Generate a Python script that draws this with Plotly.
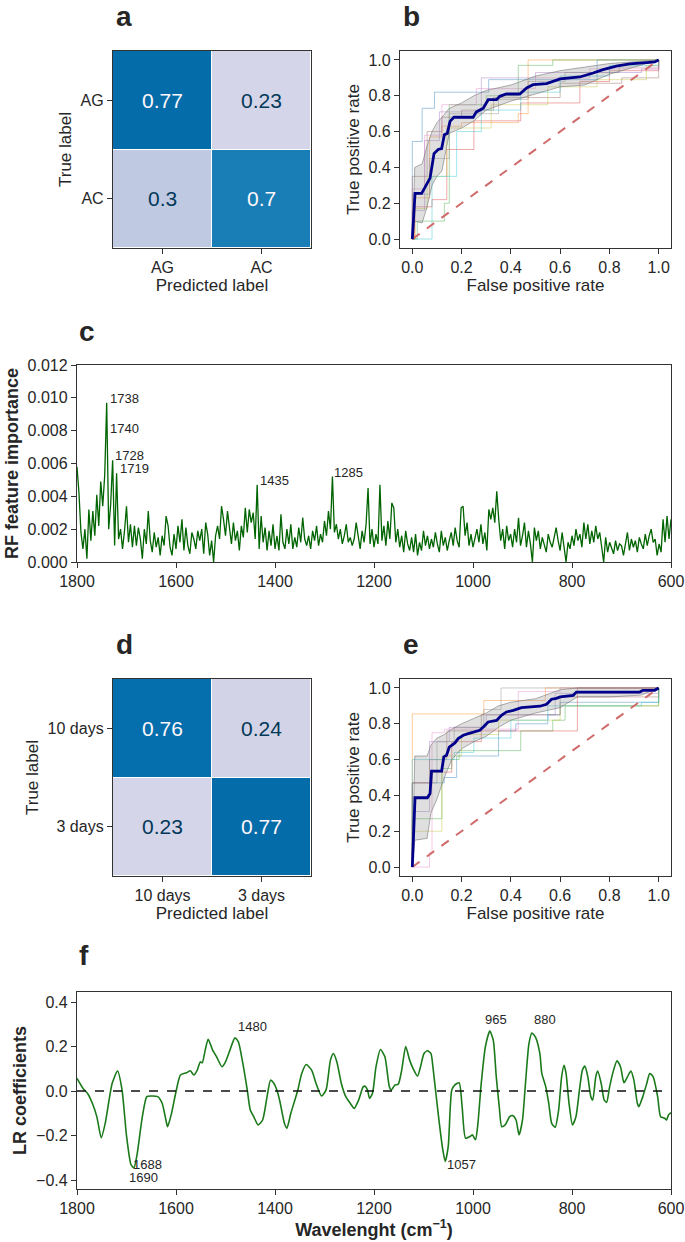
import plotly.graph_objects as go

FIG_W, FIG_H = 685, 1242
FONT = 'Liberation Sans, Arial, sans-serif'
TXT = '#262626'
AX = '#333333'

# ---------------- data ----------------
cm_a_labels = ['AG', 'AC']
cm_a_values = [[0.77, 0.23], [0.3, 0.7]]
cm_d_labels = ['10 days', '3 days']
cm_d_values = [[0.76, 0.24], [0.23, 0.77]]

chance_line = [0, 1]
fold_colors = ['#1f77b4', '#ff7f0e', '#2ca02c', '#d62728', '#9467bd',
               '#8c564b', '#e377c2', '#7f7f7f', '#bcbd22', '#17becf']

# panel b: ROC of AG vs AC
b_fold_fpr = [
    [0, 0, 0.04, 0.09, 0.31, 0.75, 1.0],
    [0, 0.01, 0.07, 0.12, 0.2, 0.43, 0.47, 1.0],
    [0, 0.02, 0.13, 0.15, 0.3, 0.43, 0.57, 1.0],
    [0, 0.01, 0.08, 0.14, 0.25, 0.44, 0.68, 0.8, 1.0],
    [0, 0, 0.05, 0.11, 0.28, 0.5, 0.93, 1.0],
    [0, 0, 0.06, 0.12, 0.2, 0.33, 0.6, 0.85, 1.0],
    [0, 0, 0.05, 0.12, 0.26, 0.5, 0.72, 1.0],
    [0, 0, 0.07, 0.15, 0.35, 0.47, 0.62, 0.84, 1.0],
    [0, 0.01, 0.06, 0.14, 0.32, 0.55, 0.75, 0.95, 1.0],
    [0, 0.07, 0.08, 0.18, 0.28, 0.44, 0.6, 0.8, 1.0],
]
b_fold_tpr = [
    [0, 0.545, 0.73, 0.82, 0.89, 1.0, 1.0],
    [0, 0.23, 0.57, 0.63, 0.65, 0.70, 1.0, 1.0],
    [0, 0.1, 0.2, 0.75, 0.8, 0.97, 1.0, 1.0],
    [0, 0.18, 0.22, 0.5, 0.66, 0.76, 0.88, 0.94, 1.0],
    [0, 0.16, 0.55, 0.71, 0.9, 0.93, 0.95, 1.0],
    [0, 0.35, 0.6, 0.68, 0.72, 0.79, 0.87, 0.9, 1.0],
    [0, 0.28, 0.58, 0.75, 0.84, 0.9, 0.95, 1.0],
    [0, 0.25, 0.45, 0.7, 0.78, 0.88, 0.93, 0.96, 1.0],
    [0, 0.17, 0.35, 0.62, 0.75, 0.85, 0.89, 0.97, 1.0],
    [0, 0.0, 0.35, 0.6, 0.72, 0.82, 0.91, 0.97, 1.0],
]
b_mean_fpr = [0, 0.011, 0.038, 0.072, 0.088, 0.105, 0.119, 0.13, 0.142, 0.153,
              0.169, 0.247, 0.26, 0.288, 0.308, 0.342, 0.355, 0.382, 0.436, 0.464,
              0.49, 0.545, 0.6, 0.68, 0.734, 0.774, 0.828, 0.882, 0.964, 0.984, 1.0]
b_mean_tpr = [0, 0.255, 0.255, 0.34, 0.477, 0.5, 0.505, 0.583, 0.59, 0.657,
              0.68, 0.68, 0.71, 0.73, 0.778, 0.778, 0.797, 0.81, 0.81, 0.844,
              0.862, 0.868, 0.894, 0.905, 0.927, 0.946, 0.965, 0.978, 0.987, 0.989, 1.0]
b_band_fpr = [0, 0.01, 0.04, 0.06, 0.08, 0.1, 0.12, 0.15, 0.2, 0.25, 0.3, 0.4, 0.5, 0.6, 0.7, 0.8, 0.9, 1.0]
b_band_upper = [0, 0.40, 0.42, 0.52, 0.60, 0.65, 0.68, 0.73, 0.76, 0.80, 0.83, 0.86, 0.91, 0.94, 0.96, 0.98, 0.99, 1.0]
b_band_lower = [0, 0.10, 0.09, 0.18, 0.30, 0.35, 0.38, 0.59, 0.62, 0.66, 0.72, 0.77, 0.81, 0.85, 0.86, 0.92, 0.96, 1.0]

# panel e: ROC of 10 days vs 3 days
e_fold_fpr = [
    [0, 0, 0.13, 0.18, 0.35, 0.42, 0.55, 0.6, 1.0],
    [0, 0, 0.29, 0.54, 1.0],
    [0, 0, 0.12, 0.16, 0.19, 0.44, 0.57, 0.62, 1.0],
    [0, 0, 0.08, 0.16, 0.28, 0.67, 1.0],
    [0, 0, 0.07, 0.15, 0.3, 0.58, 1.0],
    [0, 0, 0.07, 0.14, 0.28, 0.6, 1.0],
    [0, 0.07, 0.08, 0.13, 0.43, 0.6, 1.0],
    [0, 0, 0.1, 0.17, 0.29, 0.36, 1.0],
    [0, 0, 0.07, 0.12, 0.2, 0.35, 0.6, 1.0],
    [0, 0, 0.17, 0.25, 0.4, 0.55, 0.93, 1.0],
]
e_fold_tpr = [
    [0, 0.47, 0.5, 0.62, 0.76, 0.8, 0.85, 0.92, 1.0],
    [0, 0.855, 0.93, 1.0, 1.0],
    [0, 0.27, 0.55, 0.6, 0.65, 0.76, 0.82, 0.9, 1.0],
    [0, 0.47, 0.53, 0.7, 0.76, 1.0, 1.0],
    [0, 0.31, 0.7, 0.78, 0.85, 0.97, 1.0],
    [0, 0.39, 0.6, 0.76, 0.85, 0.95, 1.0],
    [0, 0.08, 0.75, 0.77, 0.98, 1.0, 1.0],
    [0, 0.47, 0.7, 0.78, 0.88, 1.0, 1.0],
    [0, 0.2, 0.2, 0.62, 0.74, 0.82, 0.9, 1.0],
    [0, 0.6, 0.64, 0.72, 0.82, 0.9, 0.92, 1.0],
]
e_mean_fpr = [0, 0.011, 0.061, 0.072, 0.078, 0.119, 0.128, 0.139, 0.15, 0.164,
              0.173, 0.186, 0.207, 0.227, 0.247, 0.274, 0.288, 0.308, 0.342, 0.362,
              0.382, 0.41, 0.443, 0.477, 0.518, 0.545, 0.565, 0.585, 0.6, 0.653,
              0.666, 0.923, 0.936, 0.984, 1.0]
e_mean_tpr = [0, 0.387, 0.387, 0.41, 0.536, 0.536, 0.615, 0.624, 0.67, 0.685,
              0.693, 0.717, 0.736, 0.745, 0.754, 0.764, 0.782, 0.81, 0.819, 0.847,
              0.866, 0.875, 0.89, 0.894, 0.898, 0.909, 0.937, 0.942, 0.95, 0.959,
              0.977, 0.977, 0.987, 0.987, 1.0]
e_band_fpr = [0, 0.01, 0.06, 0.075, 0.1, 0.13, 0.16, 0.2, 0.25, 0.3, 0.35, 0.4, 0.5, 0.6, 0.67, 0.8, 0.93, 1.0]
e_band_upper = [0, 0.62, 0.62, 0.68, 0.72, 0.74, 0.77, 0.80, 0.83, 0.86, 0.90, 0.92, 0.94, 0.99, 1.0, 1.0, 1.0, 1.0]
e_band_lower = [0, 0.15, 0.16, 0.30, 0.38, 0.50, 0.60, 0.66, 0.70, 0.73, 0.78, 0.82, 0.86, 0.89, 0.95, 0.95, 0.96, 1.0]

# panel c: RF feature importance (x 1e-3), one value every 4 cm-1 from 1800 down to 600
rf_wavenumber = list(range(1800, 599, -4))
rf_importance_e3 = [
    5.8, 4.2, 1.8, 0.8, 2.0, 0.2, 3.2, 1.3, 3.1, 1.6,
    4.1, 2.2, 4.9, 3.4, 5.3, 9.7, 2.0, 3.5, 6.2, 1.0,
    5.4, 1.4, 2.0, 0.8, 1.9, 3.4, 1.2, 2.3, 0.9, 2.2,
    1.0, 2.1, 1.4, 0.2, 2.0, 1.1, 3.1, 1.3, 0.6, 1.8,
    0.9, 1.5, 0.4, 1.6, 1.0, 2.8, 2.2, 0.9, 0.4, 1.7,
    0.8, 2.2, 1.2, 2.6, 0.7, 2.1, 1.0, 0.5, 1.8, 1.4,
    0.8, 1.9, 1.3, 2.0, 0.5, 2.4, 1.7, 0.4, 1.3, 0.0,
    1.6, 2.2, 1.4, 3.4, 2.6, 1.6, 3.1, 2.0, 1.1, 2.4,
    1.3, 1.9, 0.7, 2.2, 1.5, 3.3, 1.8, 3.2, 2.4, 3.0,
    1.4, 4.7, 0.8, 2.8, 1.2, 2.1, 0.7, 1.9, 1.0, 2.3,
    0.8, 1.6, 0.7, 2.9, 1.2, 0.8, 2.0, 1.1, 2.3, 0.8,
    1.5, 0.9, 2.1, 1.2, 2.7, 1.4, 1.0, 1.6, 0.8, 1.9,
    1.3, 2.2, 1.0, 1.7, 1.2, 2.5, 1.6, 3.1, 2.0, 5.2,
    1.8, 2.3, 1.4, 2.0, 1.1, 1.6, 2.3, 1.2, 1.5, 1.0,
    1.4, 2.4, 1.7, 0.8, 1.9, 1.2, 2.3, 4.5, 1.1, 2.0,
    0.9, 1.7, 1.1, 4.7, 1.3, 2.2, 1.0, 2.5, 1.4, 3.6,
    3.3, 1.2, 2.0, 0.9, 1.6, 0.6, 1.9, 1.1, 0.7, 1.5,
    0.6, 1.7, 0.4, 1.2, 0.7, 1.9, 1.0, 1.6, 0.8, 1.4,
    0.9, 1.8, 1.1, 0.6, 1.9, 1.0, 1.5, 0.7, 1.3, 1.8,
    1.0, 2.1, 1.3, 0.9, 3.3, 3.4, 1.6, 2.4, 1.0, 1.7,
    0.9, 1.4, 2.0, 1.2, 2.3, 1.1, 1.8, 0.7, 3.2, 2.6,
    3.3, 2.4, 4.3, 2.6, 1.3, 2.0, 0.8, 2.2, 1.3, 1.7,
    0.9, 2.0, 1.2, 2.7, 1.0, 1.6, 2.4, 0.9, 1.9, 1.1,
    0.0, 2.1, 1.3, 1.9, 0.8, 1.5, 1.1, 0.6, 1.7, 1.2,
    0.9, 1.6, 2.1, 1.3, 0.7, 1.8, 1.0, 0.0, 1.2, 0.8,
    1.6, 1.0, 2.0, 1.3, 1.7, 0.9, 2.4, 1.4, 2.3, 1.1,
    1.9, 1.2, 2.2, 1.4, 1.8, 0.8, 0.0, 1.5, 0.6, 1.2,
    0.9, 0.5, 1.3, 0.7, 1.1, 1.0, 0.4, 1.2, 1.8, 0.7,
    1.4, 0.9, 1.3, 0.6, 1.5, 1.1, 0.8, 1.7, 1.0, 1.6,
    2.0, 1.2, 1.4, 0.4, 1.1, 0.6, 2.6, 1.2, 2.8, 1.4,
    2.6,
]
rf_importance = [v * 1e-3 for v in rf_importance_e3]
rf_peak_labels = ['1738', '1740', '1728', '1719', '1435', '1285']
rf_peak_x = [1737, 1737, 1727, 1718, 1434, 1284]
rf_peak_y = [0.00995, 0.00814, 0.00647, 0.0057, 0.00498, 0.00545]

# panel f: LR coefficients
lr_wavenumber = [
    1800, 1787, 1778, 1769, 1760, 1751, 1743, 1729, 1718, 1709,
    1700, 1691, 1685, 1679, 1668, 1659, 1650, 1637, 1628, 1619,
    1617, 1609, 1600, 1591, 1579, 1571, 1564, 1557, 1551, 1547,
    1541, 1535, 1526, 1518, 1507, 1500, 1491, 1481, 1474, 1465,
    1456, 1450, 1443, 1434, 1425, 1416, 1409, 1403, 1396, 1390,
    1381, 1376, 1368, 1354, 1346, 1337, 1326, 1317, 1306, 1297,
    1288, 1282, 1275, 1266, 1257, 1248, 1240, 1231, 1222, 1218,
    1213, 1209, 1203, 1196, 1187, 1178, 1169, 1165, 1158, 1151,
    1144, 1136, 1128, 1121, 1112, 1106, 1099, 1092, 1085, 1081,
    1075, 1068, 1061, 1056, 1050, 1043, 1037, 1028, 1022, 1015,
    1006, 1001, 995, 990, 984, 975, 966, 959, 953, 947,
    942, 935, 926, 920, 913, 907, 900, 894, 887, 881,
    874, 865, 861, 853, 847, 841, 834, 827, 821, 816,
    812, 806, 799, 792, 785, 779, 774, 768, 762, 758,
    752, 748, 741, 735, 730, 724, 716, 709, 702, 695,
    688, 681, 675, 668, 665, 657, 649, 643, 636, 627,
    621, 613, 609, 605, 600,
]
lr_coef = [
    0.057, 0.009, -0.013, -0.055, -0.115, -0.21, -0.145, 0.034, 0.09, 0.005,
    -0.2, -0.33, -0.345, -0.29, -0.115, -0.025, -0.022, -0.025, -0.055, -0.145,
    -0.16, -0.1, -0.003, 0.072, 0.082, 0.091, 0.072, 0.094, 0.131, 0.127,
    0.184, 0.233, 0.184, 0.154, 0.109, 0.131, 0.184, 0.239, 0.221, 0.124,
    0.004, -0.085, -0.115, -0.152, -0.13, -0.025, 0.049, 0.037, 0.004, -0.048,
    -0.145, -0.167, -0.1, 0.004, 0.079, 0.119, 0.094, 0.034, -0.022, 0.004,
    0.139, 0.169, 0.131, 0.034, -0.025, -0.055, -0.078, -0.04, 0.019, 0.022,
    0.004, -0.033, -0.01, 0.109, 0.187, 0.154, 0.019, 0.004, 0.027, 0.031,
    0.094, 0.2, 0.139, 0.101, 0.067, 0.109, 0.169, 0.181, 0.169, 0.109,
    -0.01, -0.145, -0.264, -0.316, -0.248, 0.004, 0.027, 0.037, -0.07, -0.212,
    -0.204, -0.197, -0.219, -0.145, 0.019, 0.199, 0.27, 0.228, 0.064, -0.07,
    -0.16, -0.152, -0.115, -0.11, -0.13, -0.197, -0.13, 0.034, 0.213, 0.261,
    0.243, 0.169, 0.079, 0.019, -0.055, -0.145, -0.163, -0.085, 0.064, 0.116,
    0.079, -0.055, -0.152, -0.115, 0.004, 0.094, 0.112, 0.064, -0.025, -0.04,
    0.064, 0.09, 0.034, -0.04, -0.051, 0.019, 0.094, 0.136, 0.109, 0.037,
    0.064, 0.09, 0.049, -0.055, -0.07, -0.025, 0.034, 0.079, 0.064, -0.025,
    -0.115, -0.122, -0.13, -0.107, -0.097,
]
lr_peak_labels = ['1480', '965', '880', '1688', '1690', '1057']
lr_peak_x = [1478, 979, 880, 1690, 1699, 1056]
lr_peak_y = [0.29, 0.32, 0.32, -0.328, -0.387, -0.328]


# ---------------- helpers ----------------
def xdom(left, right):
    return [left / FIG_W, right / FIG_W]


def ydom(top, bottom):
    return [1 - bottom / FIG_H, 1 - top / FIG_H]


def rgba(hex_color, alpha):
    h = hex_color.lstrip('#')
    return 'rgba(%d,%d,%d,%s)' % (int(h[0:2], 16), int(h[2:4], 16), int(h[4:6], 16), alpha)


def frame(**kw):
    base = dict(showline=True, mirror=True, linecolor=AX, linewidth=1.3,
                ticks='outside', ticklen=5, tickwidth=1.2, tickcolor=AX,
                showgrid=False, zeroline=False, automargin=False,
                tickfont=dict(size=16, color=TXT, family=FONT))
    base.update(kw)
    return base


def axis_title(text, size=17, standoff=None):
    t = dict(text=text, font=dict(size=size, color=TXT, family=FONT))
    if standoff is not None:
        t['standoff'] = standoff
    return t


fig = go.Figure()
annotations = []


def add_confusion(values, labels, xa, ya):
    fig.add_trace(go.Heatmap(z=values, x=labels, y=labels, colorscale='PuBu',
                             zmin=0, zmax=1, showscale=False, xgap=1, ygap=1,
                             xaxis=xa, yaxis=ya, hoverinfo='skip'))
    flat = [v for row in values for v in row]
    thresh = (max(flat) + min(flat)) / 2
    for i, row in enumerate(values):
        for j, v in enumerate(row):
            annotations.append(dict(x=labels[j], y=labels[i], xref=xa, yref=ya,
                                    text=str(v), showarrow=False,
                                    font=dict(size=21, family=FONT,
                                              color='#fff7fb' if v >= thresh else '#023858')))


def add_roc(fold_fpr, fold_tpr, band_fpr, band_lower, band_upper, mean_fpr, mean_tpr, xa, ya):
    for k in range(len(fold_fpr)):
        fig.add_trace(go.Scatter(x=fold_fpr[k], y=fold_tpr[k], mode='lines',
                                 line=dict(color=rgba(fold_colors[k], 0.4), width=1, shape='hv'),
                                 xaxis=xa, yaxis=ya, showlegend=False, hoverinfo='skip'))
    fig.add_trace(go.Scatter(x=band_fpr, y=band_lower, mode='lines',
                             line=dict(color='rgba(110,110,110,0.55)', width=1),
                             xaxis=xa, yaxis=ya, showlegend=False, hoverinfo='skip'))
    fig.add_trace(go.Scatter(x=band_fpr, y=band_upper, mode='lines', fill='tonexty',
                             fillcolor='rgba(140,140,140,0.28)',
                             line=dict(color='rgba(110,110,110,0.55)', width=1),
                             xaxis=xa, yaxis=ya, showlegend=False, hoverinfo='skip'))
    fig.add_trace(go.Scatter(x=chance_line, y=chance_line, mode='lines',
                             line=dict(color='#d16b6b', width=2, dash='dash'),
                             xaxis=xa, yaxis=ya, showlegend=False, hoverinfo='skip'))
    fig.add_trace(go.Scatter(x=mean_fpr, y=mean_tpr, mode='lines',
                             line=dict(color='#00008b', width=2.8),
                             xaxis=xa, yaxis=ya, showlegend=False))


# a, d: confusion matrices
add_confusion(cm_a_values, cm_a_labels, 'x', 'y')
add_confusion(cm_d_values, cm_d_labels, 'x4', 'y4')

# b, e: ROC curves
add_roc(b_fold_fpr, b_fold_tpr, b_band_fpr, b_band_lower, b_band_upper, b_mean_fpr, b_mean_tpr, 'x2', 'y2')
add_roc(e_fold_fpr, e_fold_tpr, e_band_fpr, e_band_lower, e_band_upper, e_mean_fpr, e_mean_tpr, 'x5', 'y5')

# c: RF importance
fig.add_trace(go.Scatter(x=rf_wavenumber, y=rf_importance, mode='lines',
                         line=dict(color='#006400', width=1.3),
                         xaxis='x3', yaxis='y3', showlegend=False))
for lab, px, py in zip(rf_peak_labels, rf_peak_x, rf_peak_y):
    annotations.append(dict(x=px, y=py, xref='x3', yref='y3', text=lab, showarrow=False,
                            xanchor='left', yanchor='middle',
                            font=dict(size=13, color=TXT, family=FONT)))

# f: LR coefficients
fig.add_trace(go.Scatter(x=lr_wavenumber, y=lr_coef, mode='lines',
                         line=dict(color='#1a7a1a', width=1.6, shape='spline', smoothing=0.6),
                         xaxis='x6', yaxis='y6', showlegend=False))
for lab, px, py in zip(lr_peak_labels, lr_peak_x, lr_peak_y):
    annotations.append(dict(x=px, y=py, xref='x6', yref='y6', text=lab, showarrow=False,
                            xanchor='left', yanchor='middle',
                            font=dict(size=13, color=TXT, family=FONT)))

# panel letters
for letter, px, py in [('a', 114, 17), ('b', 401, 17), ('c', 77, 331),
                       ('d', 114, 644), ('e', 401, 644), ('f', 77, 955)]:
    annotations.append(dict(x=px / FIG_W, y=1 - py / FIG_H, xref='paper', yref='paper',
                            text='<b>%s</b>' % letter, showarrow=False,
                            xanchor='left', yanchor='middle',
                            font=dict(size=28, color=TXT, family=FONT)))

roc_ticks = dict(range=[-0.05, 1.05], tick0=0, dtick=0.2, tickformat='.1f')
spec_x = dict(range=[1800, 600], tick0=600, dtick=200)

fig.update_layout(
    width=FIG_W, height=FIG_H, autosize=False,
    margin=dict(l=0, r=0, t=0, b=0),
    paper_bgcolor='white', plot_bgcolor='white',
    font=dict(family=FONT, color=TXT),
    showlegend=False,
    annotations=annotations,
    xaxis=frame(domain=xdom(113, 311), anchor='y', type='category',
                title=axis_title('Predicted label', standoff=2)),
    yaxis=frame(domain=ydom(51, 248), anchor='x', type='category', autorange='reversed',
                title=axis_title('True label', standoff=4)),
    xaxis2=frame(domain=xdom(400, 671), anchor='y2',
                 title=axis_title('False positive rate', standoff=2), **roc_ticks),
    yaxis2=frame(domain=ydom(51, 248), anchor='x2',
                 title=axis_title('True positive rate', standoff=4), **roc_ticks),
    xaxis3=frame(domain=xdom(77, 671), anchor='y3', **spec_x),
    yaxis3=frame(domain=ydom(365, 562), anchor='x3', range=[0, 0.012], dtick=0.002,
                 tickformat='.3f', title=axis_title('<b>RF feature importance</b>', 18, 4)),
    xaxis4=frame(domain=xdom(113, 311), anchor='y4', type='category',
                 title=axis_title('Predicted label', standoff=2)),
    yaxis4=frame(domain=ydom(679, 876), anchor='x4', type='category', autorange='reversed',
                 title=axis_title('True label', standoff=4)),
    xaxis5=frame(domain=xdom(400, 671), anchor='y5',
                 title=axis_title('False positive rate', standoff=2), **roc_ticks),
    yaxis5=frame(domain=ydom(679, 876), anchor='x5',
                 title=axis_title('True positive rate', standoff=4), **roc_ticks),
    xaxis6=frame(domain=xdom(77, 671), anchor='y6',
                 title=axis_title('<b>Wavelenght (cm<sup>\u22121</sup>)</b>', 18, 4), **spec_x),
    yaxis6=frame(domain=ydom(992, 1189), anchor='x6', range=[-0.44, 0.445], tick0=0, dtick=0.2,
                 tickformat='.1f', title=axis_title('<b>LR coefficients</b>', 18, 4)),
    shapes=[dict(type='line', xref='x6 domain', yref='y6', x0=0, x1=1, y0=0, y1=0,
                 line=dict(color='#111111', width=1.6, dash='dash'))],
)

# the page's default body margin would push the fixed-size figure off the viewport
fig.write_html("out.html", config={'displayModeBar': False},
               post_script="document.body.style.margin = '0';")
